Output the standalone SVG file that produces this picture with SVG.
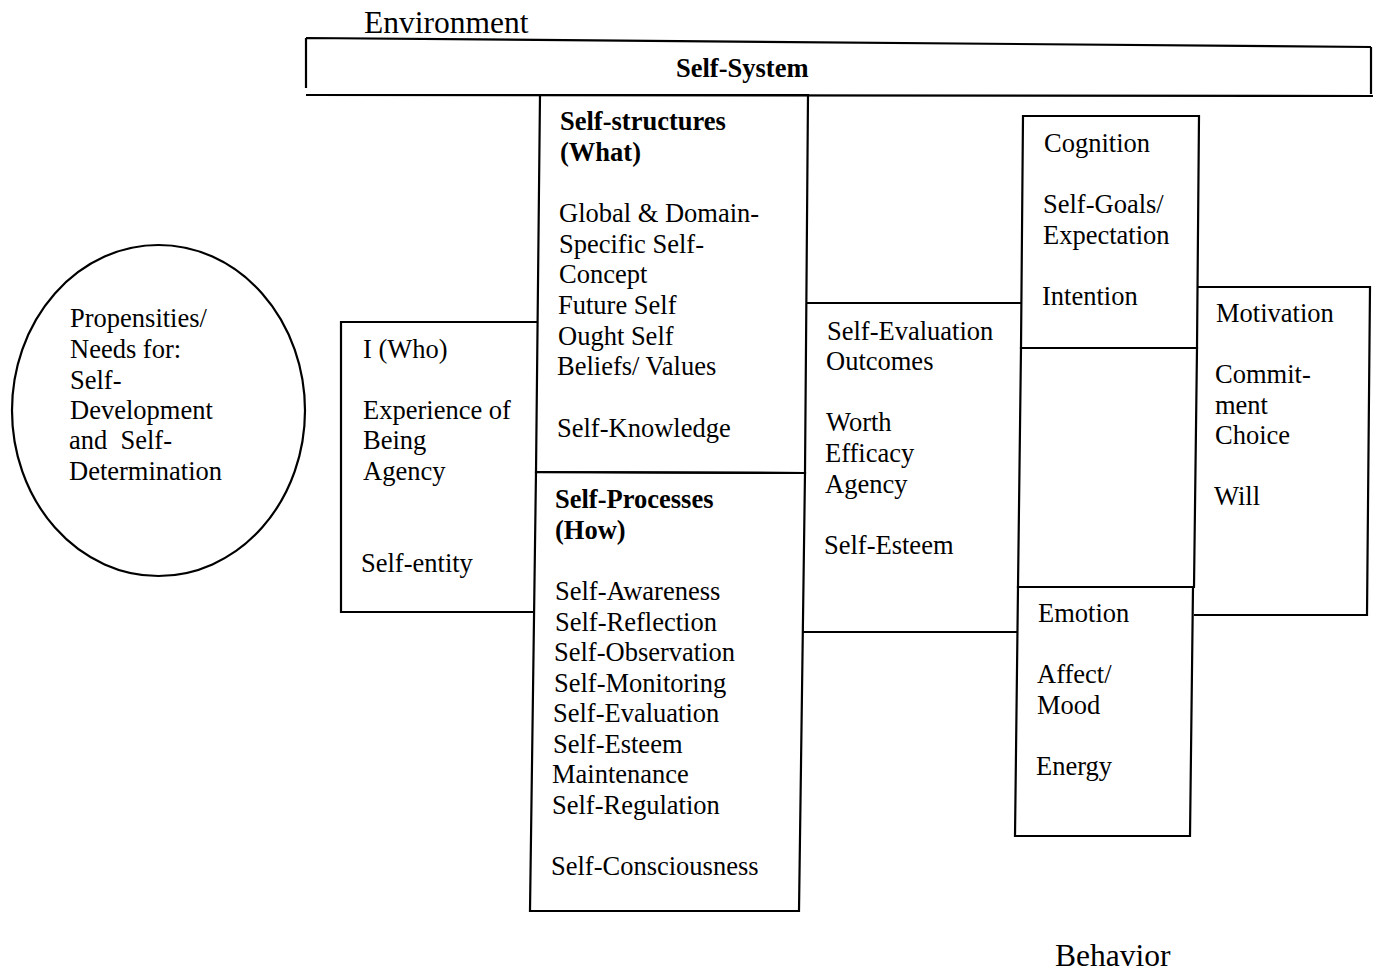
<svg xmlns="http://www.w3.org/2000/svg" width="1377" height="973" viewBox="0 0 1377 973">
<style>
.ln{fill:none;stroke:#000;stroke-width:2.2;stroke-linejoin:miter}
.t{font-family:"Liberation Serif","Times New Roman",serif;font-size:26.5px;fill:#000}
.b{font-weight:bold}
.big{font-size:31.5px}
</style>
<rect width="1377" height="973" fill="#fff"/>
<g id="environment">
<text class="t big" x="364" y="33">Environment</text>
</g>
<g id="self-system">
<path class="ln" d="M306,38 L1371,47 M306,38 L306,88 M1371,47 L1371,94 M306,95 L1373,96"/>
<text class="t b" x="676" y="77">Self-System</text>
</g>
<g id="propensities">
<ellipse class="ln" cx="158.5" cy="410.5" rx="146.5" ry="165.5"/>
<text class="t" x="70" y="327">Propensities/</text>
<text class="t" x="70" y="358">Needs for:</text>
<text class="t" x="70" y="389">Self-</text>
<text class="t" x="70" y="419">Development</text>
<text class="t" x="69" y="449" xml:space="preserve">and  Self-</text>
<text class="t" x="69" y="480">Determination</text>
</g>
<g id="i-who">
<path class="ln" d="M538,322 L341,322 L341,612 L533,612"/>
<text class="t" x="363" y="358">I (Who)</text>
<text class="t" x="363" y="419">Experience of</text>
<text class="t" x="363" y="449">Being</text>
<text class="t" x="363" y="480">Agency</text>
<text class="t" x="361" y="572">Self-entity</text>
</g>
<g id="self-structures">
<path class="ln" d="M540,95 L808,95 L805,473 L536,472 Z"/>
<text class="t b" x="560" y="130">Self-structures</text>
<text class="t b" x="560" y="161">(What)</text>
<text class="t" x="559" y="222">Global &amp; Domain-</text>
<text class="t" x="559" y="253">Specific Self-</text>
<text class="t" x="559" y="283">Concept</text>
<text class="t" x="558" y="314">Future Self</text>
<text class="t" x="558" y="345">Ought Self</text>
<text class="t" x="557" y="375">Beliefs/ Values</text>
<text class="t" x="557" y="437">Self-Knowledge</text>
</g>
<g id="self-processes">
<path class="ln" d="M536,472 L805,473 L799,911 L530,911 Z"/>
<text class="t b" x="555" y="508">Self-Processes</text>
<text class="t b" x="555" y="539">(How)</text>
<text class="t" x="555" y="600">Self-Awareness</text>
<text class="t" x="555" y="631">Self-Reflection</text>
<text class="t" x="554" y="661">Self-Observation</text>
<text class="t" x="554" y="692">Self-Monitoring</text>
<text class="t" x="553" y="722">Self-Evaluation</text>
<text class="t" x="553" y="753">Self-Esteem</text>
<text class="t" x="552" y="783">Maintenance</text>
<text class="t" x="552" y="814">Self-Regulation</text>
<text class="t" x="551" y="875">Self-Consciousness</text>
</g>
<g id="self-evaluation-outcomes">
<path class="ln" d="M807,303 L1021,303 M803,632 L1017,632"/>
<text class="t" x="827" y="340">Self-Evaluation</text>
<text class="t" x="826" y="370">Outcomes</text>
<text class="t" x="826" y="431">Worth</text>
<text class="t" x="825" y="462">Efficacy</text>
<text class="t" x="825" y="493">Agency</text>
<text class="t" x="824" y="554">Self-Esteem</text>
</g>
<g id="cognition">
<path class="ln" d="M1023,116 L1199,116 L1197,348 L1021,348 Z"/>
<text class="t" x="1044" y="152">Cognition</text>
<text class="t" x="1043" y="213">Self-Goals/</text>
<text class="t" x="1043" y="244">Expectation</text>
<text class="t" x="1042" y="305">Intention</text>
</g>
<g id="empty-box">
<path class="ln" d="M1021,348 L1197,348 L1194,587 L1018,587 Z"/>
</g>
<g id="emotion">
<path class="ln" d="M1018,587 L1193,587 L1190,836 L1015,836 Z"/>
<text class="t" x="1038" y="622">Emotion</text>
<text class="t" x="1037" y="683">Affect/</text>
<text class="t" x="1037" y="714">Mood</text>
<text class="t" x="1036" y="775">Energy</text>
</g>
<g id="motivation">
<path class="ln" d="M1197,287 L1370,287 L1367,615 L1194,615"/>
<text class="t" x="1216" y="322">Motivation</text>
<text class="t" x="1215" y="383">Commit-</text>
<text class="t" x="1215" y="414">ment</text>
<text class="t" x="1215" y="444">Choice</text>
<text class="t" x="1214" y="505">Will</text>
</g>
<g id="behavior">
<text class="t big" x="1055" y="966">Behavior</text>
</g>
<g id="connectors"></g>
</svg>
